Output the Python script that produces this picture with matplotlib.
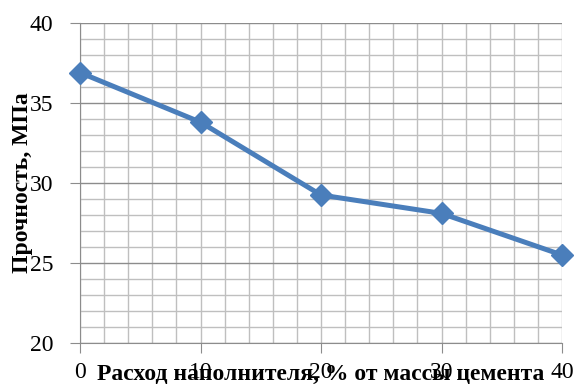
import matplotlib
import matplotlib.pyplot as plt
from matplotlib.ticker import MultipleLocator

matplotlib.use('Agg')

# Расход наполнителя (% от массы цемента) и прочность (МПа)
rashod = [0, 10, 20, 30, 40]
prochnost = [36.9, 33.8, 29.25, 28.1, 25.5]

plt.rcParams['font.family'] = ['Liberation Serif', 'DejaVu Serif']

fig = plt.figure(figsize=(5.76, 3.87), dpi=100)
ax = fig.add_axes([80 / 576, 44 / 387, 482 / 576, 320 / 387])

ax.plot(rashod, prochnost, color='#4a7ebb', linewidth=3.6,
        marker='D', markersize=11.5, markerfacecolor='#4a7ebb',
        markeredgecolor='#4a7ebb', clip_on=False, zorder=5)

ax.set_xlim(0, 40)
ax.set_ylim(20, 40)
ax.xaxis.set_major_locator(MultipleLocator(10))
ax.xaxis.set_minor_locator(MultipleLocator(2))
ax.yaxis.set_major_locator(MultipleLocator(5))
ax.yaxis.set_minor_locator(MultipleLocator(1))

# сетка: вертикальные линии светлые, основные горизонтальные темнее
ax.grid(axis='x', which='both', color='#bfbfbf', linewidth=1.0)
ax.grid(axis='y', which='minor', color='#bfbfbf', linewidth=1.0)
ax.grid(axis='y', which='major', color='#8c8c8c', linewidth=1.0)
ax.set_axisbelow(True)

for side in ['top', 'right']:
    ax.spines[side].set_visible(False)
ax.spines['left'].set_color('#8c8c8c')
ax.spines['bottom'].set_color('#8c8c8c')

ax.tick_params(which='major', length=7, color='#8c8c8c', labelsize=17)
ax.tick_params(which='minor', length=0)
ax.tick_params(axis='y', pad=12)
ax.tick_params(axis='x', pad=7)

ax.set_xlabel('Расход наполнителя, % от массы цемента', fontsize=17,
              fontweight='bold', labelpad=-14)
ax.set_ylabel('Прочность, МПа', fontsize=17, fontweight='bold', labelpad=-2)

fig.savefig('out.png', dpi=100)
